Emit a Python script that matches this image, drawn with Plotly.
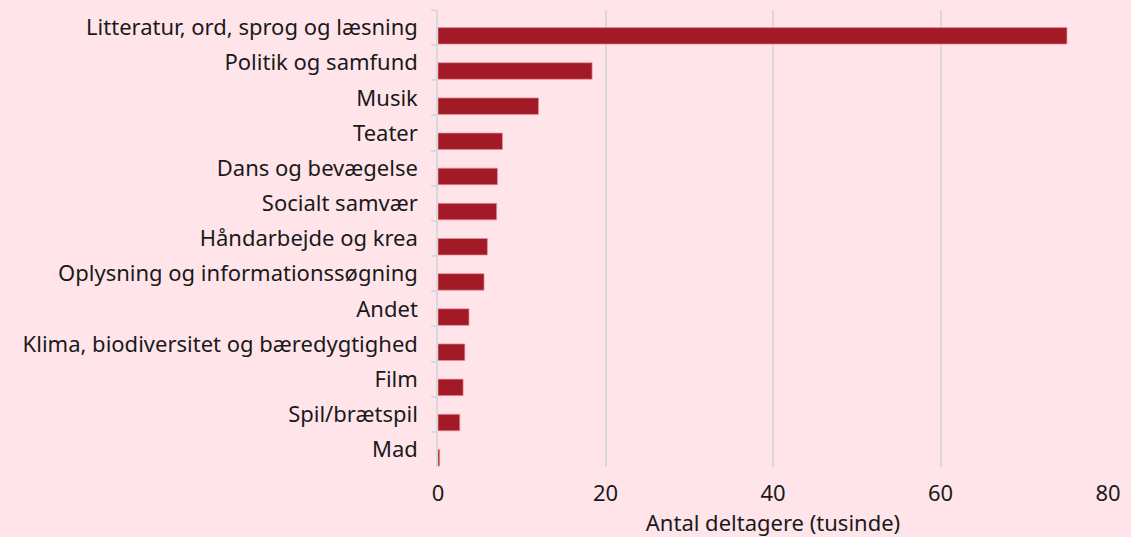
import plotly.graph_objects as go

categories = [
    "Litteratur, ord, sprog og læsning",
    "Politik og samfund",
    "Musik",
    "Teater",
    "Dans og bevægelse",
    "Socialt samvær",
    "Håndarbejde og krea",
    "Oplysning og informationssøgning",
    "Andet",
    "Klima, biodiversitet og bæredygtighed",
    "Film",
    "Spil/brætspil",
    "Mad",
]
values = [75.1, 18.4, 12.0, 7.7, 7.1, 7.0, 5.9, 5.5, 3.7, 3.2, 3.0, 2.6, 0.2]
x_ticks = [0, 20, 40, 60, 80]

BG = "#FFE5EA"
BAR = "#A31A27"
GRID = "#D9D9D9"
FONT = "Noto Sans"

fig = go.Figure(
    go.Bar(
        y=categories,
        x=values,
        orientation="h",
        marker=dict(color=BAR, line=dict(color="rgba(235,140,155,0.7)", width=1)),
        width=0.47,
        offset=0.0,
    )
)

fig.update_layout(
    width=1131,
    height=537,
    paper_bgcolor=BG,
    plot_bgcolor=BG,
    margin=dict(l=438, r=18, t=10, b=70),
    font=dict(family=FONT, size=22, color="#1a1a1a"),
    showlegend=False,
)

fig.update_xaxes(
    range=[0, 80],
    tickvals=x_ticks,
    ticktext=[str(t) for t in x_ticks],
    showgrid=True,
    gridcolor=GRID,
    gridwidth=1.5,
    zeroline=False,
    showline=False,
    ticks="",
    ticklabelstandoff=11,
    title=dict(text="Antal deltagere (tusinde)", standoff=2, font=dict(size=22)),
)

fig.update_yaxes(
    categoryorder="array",
    categoryarray=categories,
    autorange="reversed",
    showline=True,
    linecolor=GRID,
    linewidth=1.5,
    ticks="outside",
    tickson="boundaries",
    ticklen=5,
    tickcolor=GRID,
    tickwidth=1.5,
    showgrid=False,
    ticklabelstandoff=14,
)

fig.write_html(
    "out.html",
    config={"displayModeBar": False},
    post_script="document.body.style.margin='0';document.body.style.overflow='hidden';",
)
